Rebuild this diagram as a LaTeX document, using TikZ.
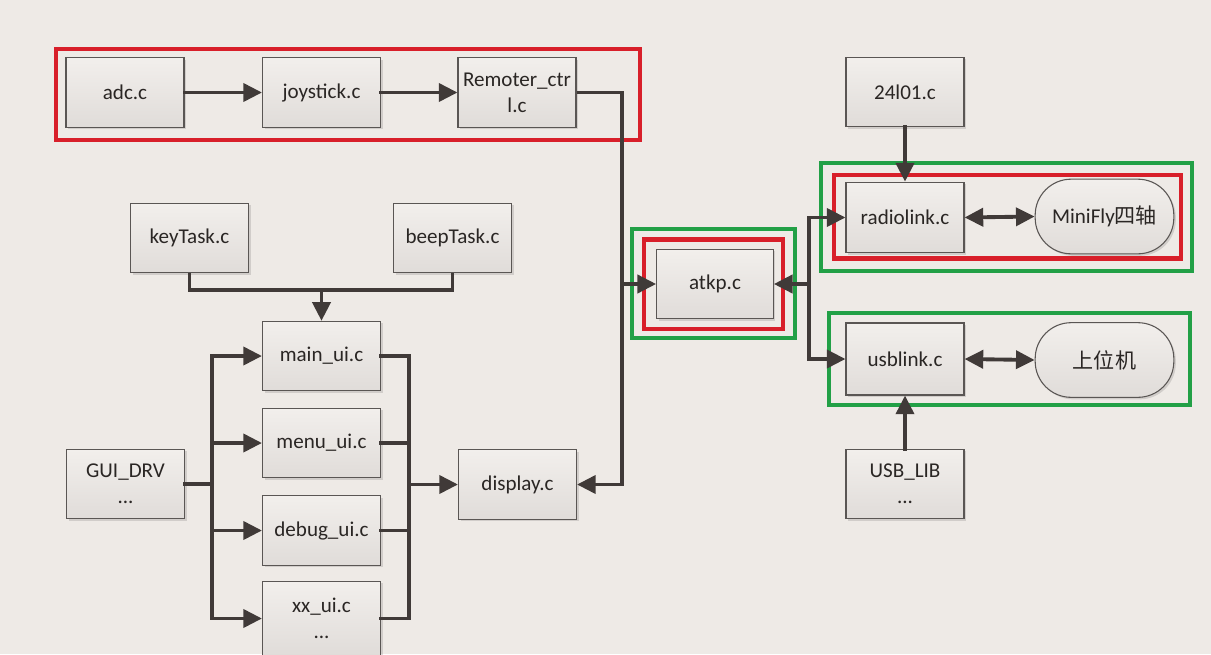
\documentclass[tikz,border=0pt]{standalone}
\usepackage{fontspec}
\setmainfont{Carlito}
\newfontfamily\cjk{Noto Sans CJK SC}
\usetikzlibrary{arrows.meta,shadows}
\definecolor{bg}{HTML}{EEEAE6}
\definecolor{ln}{HTML}{403A38}
\definecolor{bd}{HTML}{5A5654}
\definecolor{tx}{HTML}{2A2624}
\definecolor{fr}{HTML}{D81F2A}
\definecolor{fg}{HTML}{22A046}
\definecolor{ftop}{HTML}{F2EFEC}
\definecolor{fbot}{HTML}{E0DCD9}
\tikzset{
 box/.style={draw=bd, line width=0.8pt, top color=ftop, bottom color=fbot,
   minimum width=88.5pt, minimum height=52pt, align=center, text=tx,
   font=\fontsize{15.8}{19.5}\selectfont, inner sep=1pt,
   drop shadow={shadow xshift=1.5pt, shadow yshift=-1.5pt, fill=black, opacity=0.12}},
 pill/.style={box, rounded corners=27pt, minimum width=104pt, minimum height=56pt},
 conn/.style={draw=ln, line width=2.9pt, line cap=rect},
 arr/.style={-{Triangle[length=14pt,width=13.5pt]}},
 darr/.style={{Triangle[length=14pt,width=13.5pt]}-{Triangle[length=14pt,width=13.5pt]}},
 redframe/.style={draw=fr, line width=3.2pt},
 greenframe/.style={draw=fg, line width=3.2pt},
}
\begin{document}
\begin{tikzpicture}[x=0.75pt,y=-0.75pt]
\fill[bg] (0,0) rectangle (1211,654);
\useasboundingbox (0,0) rectangle (1211,654);
\clip (0,0) rectangle (1211,654);

% nodes
\node[box] (adc) at (125,92.5) {adc.c};
\node[box] (joy) at (321.5,92.5) {joystick.c};
\node[box] (rem) at (517,92.5) {Remoter\_ctr\\l.c};
\node[box] (key) at (189.5,238) {keyTask.c};
\node[box] (beep) at (452.5,238) {beepTask.c};
\node[box] (mainui) at (321.5,356) {main\_ui.c};
\node[box] (menuui) at (321.5,443) {menu\_ui.c};
\node[box] (debugui) at (321.5,530.5) {debug\_ui.c};
\node[box, minimum height=56pt] (xxui) at (321.5,618.5) {xx\_ui.c\\...};
\node[box] (gui) at (125.5,484) {GUI\_DRV\\...};
\node[box] (disp) at (517.5,484.5) {display.c};
\node[box, minimum width=87.5pt] (atkp) at (715,284) {atkp.c};
\node[box] (n24) at (905,92) {24l01.c};
\node[box, minimum height=53pt] (radio) at (905,217.5) {radiolink.c};
\node[box, minimum height=54pt] (usb) at (905,359) {usblink.c};
\node[box] (usblib) at (905,484) {USB\_LIB\\...};
\node[pill] (minifly) at (1104.5,216.5) {MiniFly{\cjk 四轴}};
\node[pill] (upper) at (1104.5,360) {{\cjk 上位机}};

% frames
\draw[redframe] (56,49) rectangle (640,140);
\draw[greenframe] (632,229) rectangle (795,338);
\draw[redframe] (644,239.5) rectangle (783,329);
\draw[greenframe] (821,163) rectangle (1192,271);
\draw[redframe] (834,175) rectangle (1181,258.5);
\draw[greenframe] (829,313) rectangle (1190,405);

% connectors
\coordinate (bA) at (622,0);
\coordinate (bB) at (809,0);
\coordinate (gl) at (212,0);
\coordinate (gr) at (409,0);
\coordinate (j) at (321.5,290);

\draw[conn,arr] (adc.east) -- (joy.west);
\draw[conn,arr] (joy.east) -- (rem.west);
\draw[conn,arr,line cap=butt] (rem.east) -- (rem.east -| bA) -- (disp.east -| bA) -- (disp.east);
\draw[conn,arr] (atkp.west -| bA) -- (atkp.west);
\draw[conn,arr] (atkp.east -| bB) -- (atkp.east);
\draw[conn,arr,line cap=butt] (atkp.east -| bB) -- (radio.west -| bB) -- (radio.west);
\draw[conn,arr,line cap=butt] (atkp.east -| bB) -- (usb.west -| bB) -- (usb.west);
\draw[conn,arr] (n24.south) -- (radio.north);
\draw[conn,arr] (usblib.north) -- (usb.south);
\draw[conn,darr] (radio.east) -- (minifly.west);
\draw[conn,darr] (usb.east) -- (upper.west);

\draw[conn,line cap=butt] (key.south) |- (j) -| (beep.south);
\draw[conn,arr] (j) -- (mainui.north);

\draw[conn] (gui.east) -- (gui.east -| gl);
\draw[conn] (mainui.west -| gl) -- (xxui.west -| gl);
\foreach \n in {mainui,menuui,debugui,xxui}{
  \draw[conn,arr] (\n.west -| gl) -- (\n.west);
  \draw[conn] (\n.east) -- (\n.east -| gr);
}
\draw[conn] (mainui.east -| gr) -- (xxui.east -| gr);
\draw[conn,arr] (disp.west -| gr) -- (disp.west);
\end{tikzpicture}
\end{document}
